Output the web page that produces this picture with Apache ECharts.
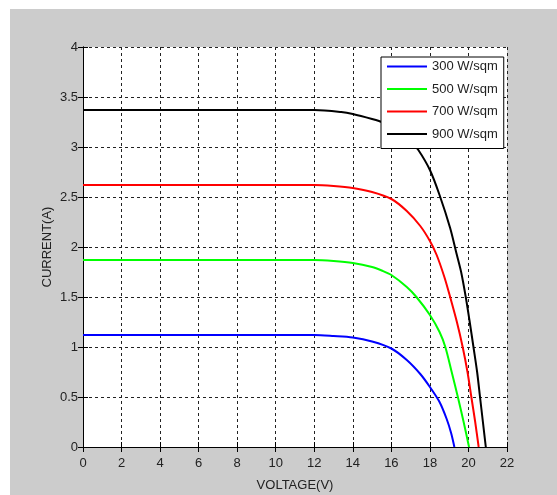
<!DOCTYPE html>
<html>
<head>
<meta charset="utf-8">
<script src="https://cdn.jsdelivr.net/npm/echarts@6/dist/echarts.min.js"></script>
<style>
  html, body { margin: 0; padding: 0; background: #fff; }
  #chart { position: absolute; left: 10px; top: 9px; width: 547px; height: 486px; background: #cccccc; }
</style>
</head>
<body>
<div id="chart"></div>
<script>
// I-V curves of a PV module at four irradiance levels
const seriesNames = ["300 W/sqm", "500 W/sqm", "700 W/sqm", "900 W/sqm"];
const seriesColors = ["#0000ff", "#00ff00", "#ff0000", "#000000"];

const voltage300 = [0, 12, 13, 14, 15, 16, 16.8, 17.5, 18, 18.5, 18.87, 19.1, 19.27];
const current300 = [1.12, 1.12, 1.11, 1.095, 1.055, 0.985, 0.87, 0.73, 0.6, 0.45, 0.28, 0.14, 0];

const voltage500 = [0, 12, 13, 14, 15, 15.5, 16, 16.8, 17.3, 18, 18.5, 18.8, 19.13, 19.45, 19.75, 20.03];
const current500 = [1.87, 1.87, 1.86, 1.84, 1.8, 1.765, 1.72, 1.6, 1.5, 1.32, 1.15, 1.0, 0.75, 0.5, 0.25, 0];

const voltage700 = [0, 12, 13, 14, 15, 16, 16.8, 17.5, 18, 18.35, 18.75, 19.05, 19.4, 19.7, 19.95, 20.15, 20.35, 20.53];
const current700 = [2.62, 2.62, 2.61, 2.59, 2.55, 2.48, 2.36, 2.21, 2.06, 1.92, 1.7, 1.5, 1.25, 1.0, 0.75, 0.5, 0.25, 0];

const voltage900 = [0, 12, 13.4, 14, 15, 15.5, 16, 16.5, 17, 17.4, 18, 18.5, 19.05, 19.36, 19.62, 19.86, 20.05, 20.26, 20.45, 20.6, 20.75, 20.9];
const current900 = [3.37, 3.37, 3.35, 3.33, 3.28, 3.25, 3.2, 3.14, 3.06, 2.97, 2.77, 2.52, 2.19, 1.95, 1.75, 1.5, 1.27, 1.0, 0.75, 0.5, 0.25, 0];

const voltages = [voltage300, voltage500, voltage700, voltage900];
const currents = [current300, current500, current700, current900];

const FONT = "'Liberation Sans', Arial, sans-serif";
const TEXT = "#222";

const gridLine = { show: true, lineStyle: { color: "#222", type: [3, 3], width: 1 } };
const frame = { show: true, lineStyle: { color: "#000", width: 1 } };
const inTick = { show: true, inside: true, length: 5, lineStyle: { color: "#000" } };

const chart = echarts.init(document.getElementById("chart"), null, { renderer: "canvas" });

chart.setOption({
  animation: false,
  grid: {
    left: 73, top: 38, width: 424, height: 400,
    outerBoundsMode: "none",
    show: true, backgroundColor: "#fff", borderWidth: 0
  },
  legend: {
    data: seriesNames,
    orient: "vertical",
    left: 371,
    top: 48,
    padding: [3, 6, 8, 6],
    itemGap: 9.5,
    itemWidth: 40,
    itemHeight: 2,
    itemTextGap: 4,
    icon: "rect",
    backgroundColor: "#fff",
    borderColor: "#000",
    borderWidth: 1,
    borderRadius: 0,
    textStyle: { fontFamily: FONT, fontSize: 13, color: TEXT }
  },
  xAxis: [
    {
      type: "value", min: 0, max: 22, interval: 2,
      name: "VOLTAGE(V)", nameLocation: "middle", nameGap: 32, nameMoveOverlap: false,
      nameTextStyle: { fontFamily: FONT, fontSize: 13, color: TEXT },
      axisLine: frame, axisTick: inTick, splitLine: gridLine,
      axisLabel: { fontFamily: FONT, fontSize: 13, color: TEXT, margin: 10 }
    },
    {
      type: "value", min: 0, max: 22, interval: 2, position: "top",
      axisLine: frame, axisTick: inTick, splitLine: { show: false },
      axisLabel: { show: false }
    }
  ],
  yAxis: [
    {
      type: "value", min: 0, max: 4, interval: 0.5,
      name: "CURRENT(A)", nameLocation: "middle", nameGap: 29, nameMoveOverlap: false,
      nameTextStyle: { fontFamily: FONT, fontSize: 13, color: TEXT },
      axisLine: frame, axisTick: inTick, splitLine: gridLine,
      axisLabel: { fontFamily: FONT, fontSize: 13, color: TEXT, margin: 5 }
    },
    {
      type: "value", min: 0, max: 4, interval: 0.5, position: "right",
      axisLine: frame, axisTick: inTick, splitLine: { show: false },
      axisLabel: { show: false }
    }
  ],
  series: seriesNames.map((name, i) => ({
    name,
    type: "line",
    xAxisIndex: 0,
    yAxisIndex: 0,
    symbol: "none",
    smooth: 0.3,
    clip: true,
    color: seriesColors[i],
    lineStyle: { color: seriesColors[i], width: 2 },
    data: voltages[i].map((v, k) => [v, currents[i][k]])
  }))
});
</script>
</body>
</html>
